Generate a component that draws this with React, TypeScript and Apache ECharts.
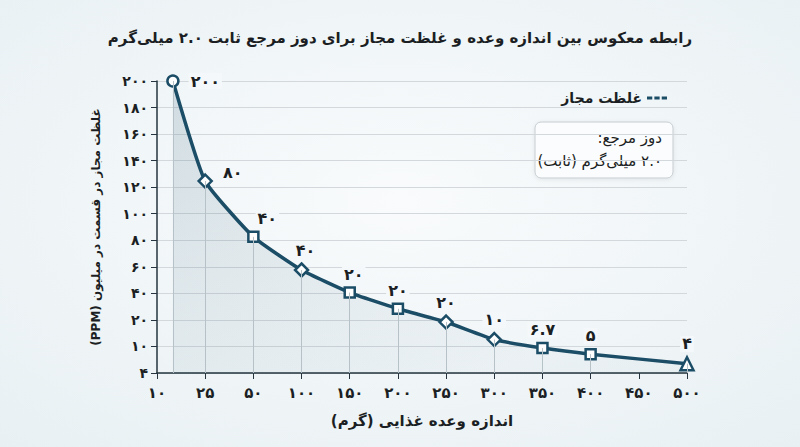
import { useEffect, useRef } from "react";
import * as echarts from "echarts";

// tick labels (evenly spaced on both axes)
const xTickLabels = ["۱۰", "۲۵", "۵۰", "۱۰۰", "۱۵۰", "۲۰۰", "۲۵۰", "۳۰۰", "۳۵۰", "۴۰۰", "۴۵۰", "۵۰۰"];
const yTickLabels = ["۴", "۱۰", "۲۰", "۴۰", "۶۰", "۸۰", "۱۰۰", "۱۲۰", "۱۴۰", "۱۶۰", "۱۸۰", "۲۰۰"];

// points, in tick-index units of the axes above
const pointX = [0.33, 1, 2, 3, 4, 5, 6, 7, 8, 9, 11];
const pointY = [11, 7.23, 5.13, 3.88, 3.03, 2.42, 1.92, 1.26, 0.94, 0.71, 0.35];
const pointLabels = ["۲۰۰", "۸۰", "۴۰", "۴۰", "۲۰", "۲۰", "۲۰", "۱۰", "۶.۷", "۵", "۴"];
const pointSymbols = ["circle", "diamond", "rect", "diamond", "rect", "rect", "diamond", "diamond", "rect", "rect", "triangle"];

const RLE = "\u202B";
const PDF = "\u202C";
const rtl = (s: string) => RLE + s + PDF;

const TITLE = "رابطه معکوس بین اندازه وعده و غلظت مجاز برای دوز مرجع ثابت ۲.۰ میلی‌گرم";
const SERIES_NAME = "غلظت مجاز";
const X_NAME = "اندازه وعده غذایی (گرم)";
const Y_NAME = "غلظت مجاز در قسمت در میلیون (PPM)";
const NOTE_1 = "دوز مرجع:";
const NOTE_2 = "۲.۰ میلی‌گرم (ثابت)";

const FONT = "'DejaVu Sans', 'Noto Sans', sans-serif";
const LINE = "#1c4d67";
const TEXT = "#1b1f23";

const labelStyle = (i: number) => {
  if (i === 0) return { position: "right", distance: 9 };
  if (i === 1) return { position: "right", offset: [4, -9] };
  if (i === 2) return { position: "top", offset: [14, 0] };
  if (i < 5) return { position: "top", offset: [4, 0] };
  return { position: "top" };
};

const symbolSize = (s: string) => (s === "diamond" ? 13 : s === "triangle" ? 13 : s === "circle" ? 11 : 10);

export default function App() {
  const chartRef = useRef<HTMLDivElement>(null);

  useEffect(() => {
    document.body.style.margin = "0";
    if (!chartRef.current) return;
    const chart = echarts.init(chartRef.current, null, { renderer: "svg" });

    const data = pointX.map((x, i) => ({
      value: [x, pointY[i]],
      symbol: pointSymbols[i],
      symbolSize: symbolSize(pointSymbols[i]),
      label: {
        show: true,
        formatter: pointLabels[i],
        distance: 4,
        ...labelStyle(i),
      },
    }));

    const dropLines = pointX.map((x, i) => [
      { coord: [x, pointY[i]] },
      { coord: [x, 0] },
    ]);

    chart.setOption({
      animation: false,
      backgroundColor: {
        type: "radial",
        x: 0.5,
        y: 0.45,
        r: 0.75,
        colorStops: [
          { offset: 0, color: "#f9fbfc" },
          { offset: 1, color: "#e8f0f3" },
        ],
      },
      textStyle: { fontFamily: FONT },
      title: {
        text: rtl(TITLE),
        left: "center",
        top: 25,
        textStyle: { fontSize: 15, fontWeight: "bold", color: TEXT, fontFamily: FONT },
      },
      legend: {
        right: 128,
        top: 86,
        align: "right",
        itemWidth: 20,
        itemHeight: 4,
        data: [
          {
            name: SERIES_NAME,
            icon: "path://M0,0h5v3h-5z M7,0h5v3h-5z M14,0h5v3h-5z",
          },
        ],
        textStyle: { fontSize: 14, fontWeight: "bold", color: TEXT, fontFamily: FONT },
        itemStyle: { color: LINE, borderWidth: 0 },
        lineStyle: { width: 0 },
      },
      grid: { left: 157, right: 113, top: 81, bottom: 74 },
      xAxis: {
        type: "value",
        min: 0,
        max: 11,
        interval: 1,
        name: rtl(X_NAME),
        nameLocation: "middle",
        nameGap: 40,
        nameTextStyle: { fontSize: 15, fontWeight: "bold", color: TEXT, fontFamily: FONT },
        axisLine: { show: true, lineStyle: { color: "#25343e", width: 1.5 } },
        axisTick: { show: true, length: 6, lineStyle: { color: "#25343e" } },
        axisLabel: {
          margin: 12,
          fontSize: 15,
          fontWeight: "bold",
          color: TEXT,
          formatter: (v: number) => xTickLabels[Math.round(v)] ?? "",
        },
        splitLine: { show: false },
      },
      yAxis: {
        type: "value",
        min: 0,
        max: 11,
        interval: 1,
        name: rtl(Y_NAME),
        nameLocation: "middle",
        nameRotate: 90,
        nameGap: 55,
        nameTextStyle: { fontSize: 12, fontWeight: "bold", color: TEXT, fontFamily: FONT },
        axisLine: { show: true, lineStyle: { color: "#25343e", width: 1.5 } },
        axisTick: { show: true, length: 6, lineStyle: { color: "#25343e" } },
        axisLabel: {
          margin: 9,
          fontSize: 14,
          fontWeight: "bold",
          color: TEXT,
          formatter: (v: number) => yTickLabels[Math.round(v)] ?? "",
        },
        splitLine: { show: true, lineStyle: { color: "#d2d8dc", width: 1 } },
      },
      series: [
        {
          name: SERIES_NAME,
          type: "line",
          data,
          smooth: 0.15,
          lineStyle: { color: LINE, width: 3.5 },
          itemStyle: { color: "#ffffff", borderColor: LINE, borderWidth: 2.5 },
          label: {
            fontSize: 16,
            fontWeight: "bold",
            color: TEXT,
            fontFamily: FONT,
            backgroundColor: "#f5f8fa",
            padding: [0, 2],
          },
          areaStyle: {
            color: {
              type: "linear",
              x: 0,
              y: 0,
              x2: 0.6,
              y2: 1,
              colorStops: [
                { offset: 0, color: "rgba(28,77,103,0.22)" },
                { offset: 1, color: "rgba(28,77,103,0.04)" },
              ],
            },
          },
          markLine: {
            silent: true,
            symbol: "none",
            label: { show: false },
            lineStyle: { color: "#b7c2c8", width: 1, type: "solid" },
            data: dropLines,
          },
          z: 3,
        },
      ],
      graphic: [
        {
          type: "group",
          children: [
            {
              type: "rect",
              shape: { x: 535, y: 122, width: 138, height: 56, r: 6 },
              style: {
                fill: "#fbfcfd",
                stroke: "#c5ccd1",
                lineWidth: 1,
                shadowBlur: 4,
                shadowColor: "rgba(0,0,0,0.08)",
                shadowOffsetY: 1,
              },
            },
            {
              type: "text",
              x: 662,
              y: 138,
              style: {
                text: rtl(NOTE_1),
                align: "right",
                verticalAlign: "middle",
                fontSize: 15,
                fontWeight: 500,
                fill: TEXT,
                fontFamily: FONT,
              },
            },
            {
              type: "text",
              x: 662,
              y: 161,
              style: {
                text: rtl(NOTE_2),
                align: "right",
                verticalAlign: "middle",
                fontSize: 15,
                fontWeight: 500,
                fill: TEXT,
                fontFamily: FONT,
              },
            },
          ],
        },
      ],
    });

    return () => {
      chart.dispose();
    };
  }, []);

  return <div ref={chartRef} style={{ width: 800, height: 447 }} />;
}
